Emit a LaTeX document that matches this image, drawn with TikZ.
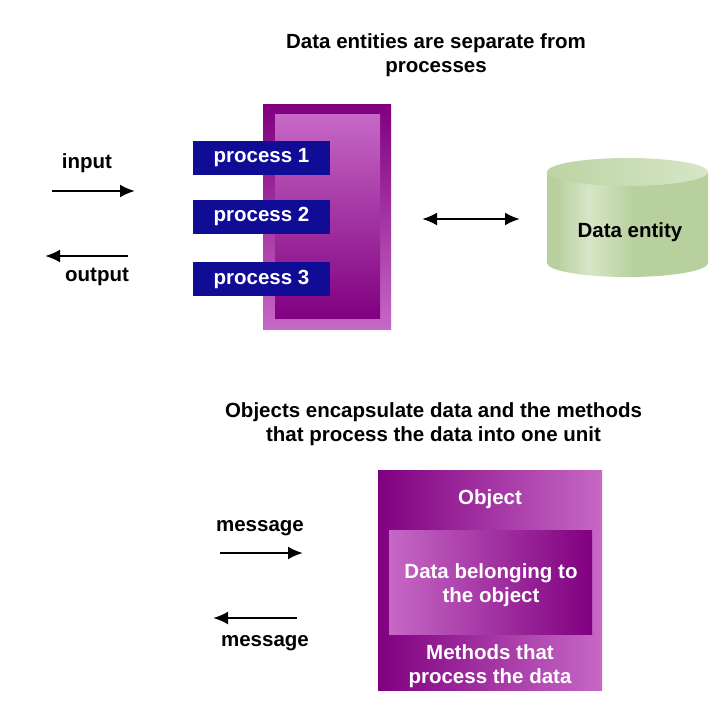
\documentclass[tikz,border=0pt]{standalone}
\usepackage{fontspec}
\setmainfont{Liberation Sans}
\usepackage{xcolor}
\definecolor{plumdark}{RGB}{128,0,128}
\definecolor{plumlight}{RGB}{198,104,198}
\definecolor{procblue}{RGB}{16,12,150}
\definecolor{sagelight}{RGB}{214,230,198}
\definecolor{sage}{RGB}{184,208,158}
\definecolor{sagetop}{RGB}{206,225,188}
\usepackage{tikz}
\usetikzlibrary{positioning,arrows.meta}
\pgfdeclarehorizontalshading{cylbody}{100bp}{color(0bp)=(sage); color(28bp)=(sage); color(38bp)=(sagelight); color(52bp)=(sage); color(100bp)=(sage)}

\begin{document}
\begin{tikzpicture}
		[x=1pt,y=-1pt,
		every node/.style={font=\fontsize{20.5}{24}\selectfont\bfseries,align=center,inner sep=0pt},
		caption/.style={text=black},
		procbox/.style={fill=procblue,text=white,minimum width=137pt,minimum height=34pt},
		arrowline/.style={line width=2.4pt,-{Latex[length=15pt,width=13pt]}}]
		\useasboundingbox[fill=white] (0,0) rectangle (709,706);
		% top half: separate data and processes
		\node[caption] (title top) at (436,55) {Data entities are separate from\\processes};
		\node[top color=plumdark,bottom color=plumlight,minimum width=128pt,minimum height=224pt] (store) at (327,217) {};
		\node[top color=plumlight,bottom color=plumdark,minimum width=105pt,minimum height=203pt] (store inner) at (327.5,216.5) {};
		\node[procbox] (proc 1) at (261.5,158) {process 1};
		\node[procbox] (proc 2) at (261.5,216.5) {process 2};
		\node[procbox] (proc 3) at (261.5,279) {process 3};
		\node[caption] (input) at (87,163) {input};
		\node[caption] (output) at (97,277) {output};
		\coordinate (in a) at (52,191);
		\coordinate (in b) at (135,191);
		\coordinate (out a) at (128,256);
		\coordinate (out b) at (45,256);
		\draw[arrowline] (in a) -- (in b);
		\draw[arrowline] (out a) -- (out b);
		% data entity cylinder
		\shade[shading=cylbody] (547,172) rectangle (708,263);
		\shade[shading=cylbody] (627.5,263) ellipse [x radius=80.5pt,y radius=14pt];
		\shade[left color=sage!80!sagetop,right color=sagelight] (627.5,172) ellipse [x radius=80.5pt,y radius=14pt];
		\node[caption] (entity) at (630,232) {Data entity};
		\coordinate (link a) at (422,219);
		\coordinate (link b) at (520,219);
		\draw[arrowline,{Latex[length=15pt,width=13pt]}-{Latex[length=15pt,width=13pt]}] (link a) -- (link b);
		% bottom half: the object
		\node[caption] (title bottom) at (433.5,424) {Objects encapsulate data and the methods\\that process the data into one unit};
		\node[left color=plumdark,right color=plumlight,minimum width=224pt,minimum height=220pt] (object) at (490,580) {};
		\node[left color=plumlight,right color=plumdark,minimum width=203pt,minimum height=104pt] (object data) at (490.5,582) {};
		\node[text=white] (object name) at (490,499) {Object};
		\node[text=white] (data text) at (491,585) {Data belonging to\\the object};
		\node[text=white] (methods) at (490,666) {Methods that\\process the data};
		\node[caption] (msg in) at (260,528) {message};
		\node[caption] (msg out) at (265,643) {message};
		\coordinate (msg a) at (220,553);
		\coordinate (msg b) at (303,553);
		\coordinate (msg c) at (297,618);
		\coordinate (msg d) at (213,618);
		\draw[arrowline] (msg a) -- (msg b);
		\draw[arrowline] (msg c) -- (msg d);
	\end{tikzpicture}
\end{document}
